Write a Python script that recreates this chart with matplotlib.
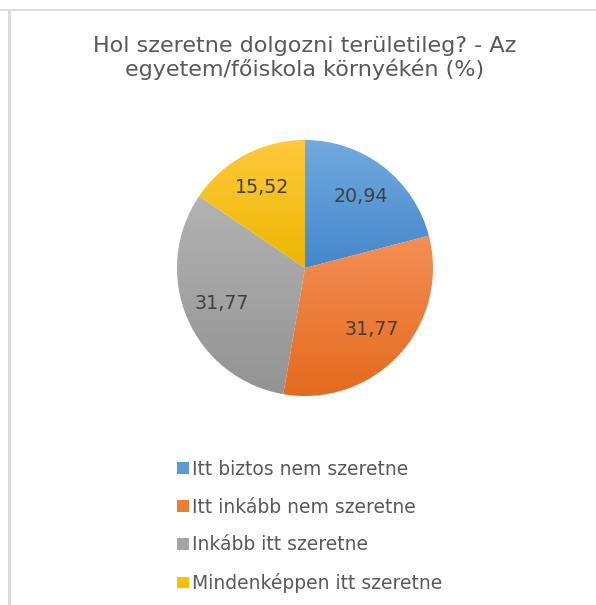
import numpy as np
import matplotlib.pyplot as plt
from matplotlib.lines import Line2D
from matplotlib.patches import Patch
from matplotlib.colors import LinearSegmentedColormap

categories = ["Itt biztos nem szeretne", "Itt inkább nem szeretne",
              "Inkább itt szeretne", "Mindenképpen itt szeretne"]
values = [20.94, 31.77, 31.77, 15.52]
title = "Hol szeretne dolgozni területileg? - Az\negyetem/főiskola környékén (%)"

# top / bottom shade of each slice (Excel-like gradient)
tops = ["#72aadf", "#f48f55", "#b3b3b3", "#ffc93c"]
bottoms = ["#4487cb", "#e56a1c", "#939393", "#ecb700"]
solids = ["#5b9bd5", "#ed7d31", "#a5a5a5", "#ffc000"]

W, H = 596, 605
fig = plt.figure(figsize=(W / 100, H / 100), dpi=100)
ax = fig.add_axes([0, 0, 1, 1])

cx, cy, r = 305, H - 268, 128

wedges, texts, autotexts = ax.pie(
  values, startangle=90, counterclock=False, radius=r, center=(cx, cy),
  autopct=lambda p: f"{p:.2f}".replace(".", ","), pctdistance=0.71,
  textprops=dict(color="#404040", fontsize=13.7), frame=True)

grad = np.linspace(0, 1, 256).reshape(-1, 1)
for w, c0, c1 in zip(wedges, tops, bottoms):
  w.set_facecolor("none")
  w.set_edgecolor("none")
  v = w.get_path().vertices
  x0, x1 = v[:, 0].min(), v[:, 0].max()
  y0, y1 = v[:, 1].min(), v[:, 1].max()
  cmap = LinearSegmentedColormap.from_list("g", [c0, c1])
  im = ax.imshow(grad, cmap=cmap, aspect="auto", origin="upper",
                 extent=(x0, x1, y0, y1), zorder=0.5)
  im.set_clip_path(w)
for t in autotexts:
  t.set_zorder(3)

ax.set_xlim(0, W)
ax.set_ylim(0, H)
ax.axis("off")

fig.text(305 / W, 1 - 58 / H, title, ha="center", va="center",
         fontsize=16, color="#595959", linespacing=1.2)

handles = [Patch(facecolor=c, edgecolor="none") for c in solids]
fig.legend(handles, categories, loc="upper left",
           bbox_to_anchor=(160 / W, 1 - 443 / H), frameon=False,
           fontsize=13.5, labelcolor="#595959", handlelength=0.65,
           handleheight=0.6, handletextpad=0.17, labelspacing=1.0)

# light frame lines at top and left
fig.add_artist(Line2D([0, 1], [1 - 9.5 / H, 1 - 9.5 / H], color="#dcdcdc", lw=1.4))
fig.add_artist(Line2D([8.5 / W, 8.5 / W], [0, 1 - 9.5 / H], color="#dcdcdc", lw=2.2))

fig.savefig("out.png", dpi=100)
